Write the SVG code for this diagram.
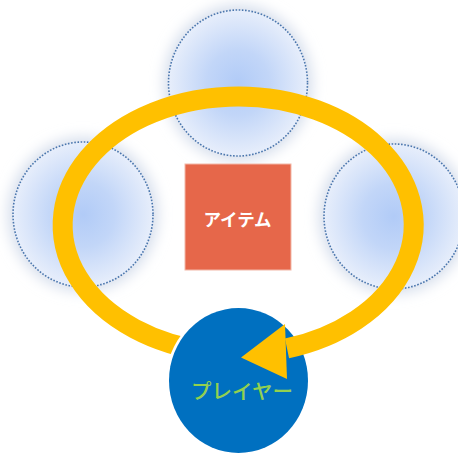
<svg xmlns="http://www.w3.org/2000/svg" width="458" height="454" viewBox="0 0 458 454">
  <defs>
    <radialGradient id="glowFill" cx="50%" cy="50%" r="50%">
      <stop offset="0" stop-color="#b1cbf7"/>
      <stop offset="0.45" stop-color="#c2d6f8"/>
      <stop offset="1" stop-color="#e7eefb"/>
    </radialGradient>
    <filter id="halo" x="-40%" y="-40%" width="180%" height="180%">
      <feGaussianBlur stdDeviation="7"/>
    </filter>
    <mask id="hideUnderPlayer" maskUnits="userSpaceOnUse" x="0" y="0" width="458" height="454">
      <rect x="0" y="0" width="458" height="454" fill="#fff"/>
      <path d="M285,327.5 A70.5,73 0 1 0 285,433.5 Z" fill="#000"/>
    </mask>
  </defs>
  <style>
    .halo { fill: #d6deec; filter: url(#halo); }
    .bubble { fill: url(#glowFill); stroke: #4a76ad; stroke-width: 1.6; stroke-dasharray: 1.6 1.6; }
    .ring { fill: none; stroke: #ffc000; stroke-width: 20; }
    .head { fill: #ffc000; }
    .lbl { font-family: "Noto Sans CJK JP", "Noto Sans", sans-serif; text-anchor: middle; }
  </style>
  <rect x="0" y="0" width="458" height="454" fill="#ffffff"/>

  <g id="bubble-top">
    <ellipse class="halo" cx="238" cy="83" rx="74" ry="78"/>
    <ellipse class="bubble" cx="238" cy="83" rx="69.5" ry="73"/>
  </g>
  <g id="bubble-left">
    <ellipse class="halo" cx="83" cy="214.5" rx="75" ry="77"/>
    <ellipse class="bubble" cx="83" cy="214.5" rx="70" ry="72.5"/>
  </g>
  <g id="bubble-right">
    <ellipse class="halo" cx="394" cy="216.5" rx="75" ry="77"/>
    <ellipse class="bubble" cx="394" cy="216.5" rx="70" ry="72.5"/>
  </g>

  <g id="item">
    <rect x="185" y="164" width="106" height="106" fill="#e6674a" stroke="#f2b8a8" stroke-width="1"/>
    <text class="lbl" x="237.5" y="226" font-size="17.5" font-weight="bold" fill="#ffffff">アイテム</text>
  </g>

  <g id="player">
    <ellipse cx="238.5" cy="380.5" rx="69.5" ry="72.5" fill="#0070c0"/>
    <text class="lbl" x="242" y="399" font-size="20.5" font-weight="500" fill="#92d050">プレイヤー</text>
  </g>

  <g id="connectors">
    <path class="ring" mask="url(#hideUnderPlayer)" d="M207.5,351.5 A175.5,128.5 0 1 1 287,348.4"/>
    <polygon class="head" points="241,357.5 285,324 287,379"/>
  </g>
</svg>
